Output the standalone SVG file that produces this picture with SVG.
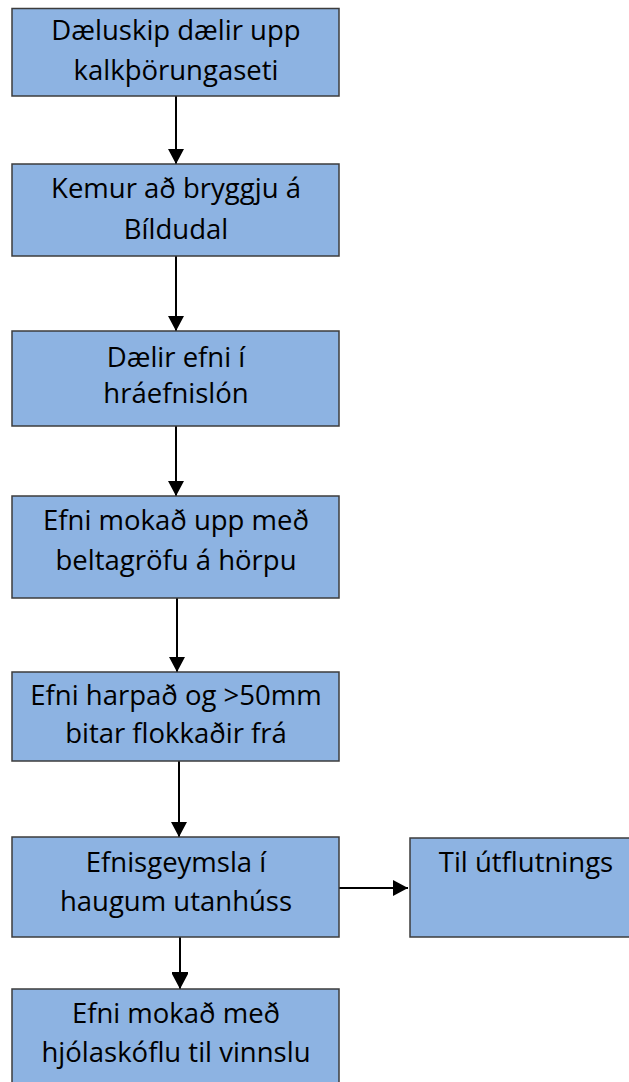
<svg xmlns="http://www.w3.org/2000/svg" width="629" height="1082" viewBox="0 0 629 1082">
<defs>
<style>
.box{fill:#8DB3E2;stroke:#3C3C3C;stroke-width:1.5}
.t{font-family:"Open Sans","Noto Sans",sans-serif;font-size:27.5px;fill:#000;text-anchor:middle}
.c{stroke:#000;stroke-width:2;fill:none}
</style>
<marker id="ah" markerWidth="15" markerHeight="16" refX="15" refY="8" orient="auto" markerUnits="userSpaceOnUse" viewBox="0 0 15 16">
<path d="M0,0 L15,8 L0,16 Z" fill="#000"/>
</marker>
</defs>
<rect width="629" height="1082" fill="#fff"/>
<g id="connectors">
<line class="c" x1="176" y1="96" x2="176" y2="164" marker-end="url(#ah)"/>
<line class="c" x1="176" y1="256" x2="176" y2="331" marker-end="url(#ah)"/>
<line class="c" x1="176" y1="426" x2="176" y2="496" marker-end="url(#ah)"/>
<line class="c" x1="177" y1="598" x2="177" y2="672" marker-end="url(#ah)"/>
<line class="c" x1="179" y1="761" x2="179" y2="837" marker-end="url(#ah)"/>
<line class="c" x1="180" y1="937" x2="180" y2="989" marker-end="url(#ah)"/>
<line x1="172" y1="973" x2="188" y2="973" stroke="#000" stroke-width="2"/>
<line class="c" x1="338" y1="888" x2="408" y2="888" marker-end="url(#ah)"/>
</g>
<g id="n1">
<rect class="box" x="12" y="8.5" width="327" height="87.5"/>
<text class="t" x="176" y="40">Dæluskip dælir upp</text>
<text class="t" x="176" y="80">kalkþörungaseti</text>
</g>
<g id="n2">
<rect class="box" x="12" y="164" width="327" height="92"/>
<text class="t" x="176" y="198">Kemur að bryggju á</text>
<text class="t" x="176" y="239">Bíldudal</text>
</g>
<g id="n3">
<rect class="box" x="12" y="331" width="327" height="95"/>
<text class="t" x="176" y="367">Dælir efni í</text>
<text class="t" x="176" y="403">hráefnislón</text>
</g>
<g id="n4">
<rect class="box" x="12" y="496" width="327" height="102"/>
<text class="t" x="176" y="530">Efni mokað upp með</text>
<text class="t" x="176" y="570">beltagröfu á hörpu</text>
</g>
<g id="n5">
<rect class="box" x="12" y="672" width="327" height="89"/>
<text class="t" x="176" y="705">Efni harpað og &gt;50mm</text>
<text class="t" x="176" y="743">bitar flokkaðir frá</text>
</g>
<g id="n6">
<rect class="box" x="12" y="837" width="327" height="100"/>
<text class="t" x="176" y="872">Efnisgeymsla í</text>
<text class="t" x="176" y="911">haugum utanhúss</text>
</g>
<g id="n7">
<rect class="box" x="12" y="989" width="327" height="100"/>
<text class="t" x="176" y="1023">Efni mokað með</text>
<text class="t" x="176" y="1062">hjólaskóflu til vinnslu</text>
</g>
<g id="n8">
<rect class="box" x="410" y="838" width="230" height="99"/>
<text class="t" x="526" y="872">Til útflutnings</text>
</g>
</svg>
